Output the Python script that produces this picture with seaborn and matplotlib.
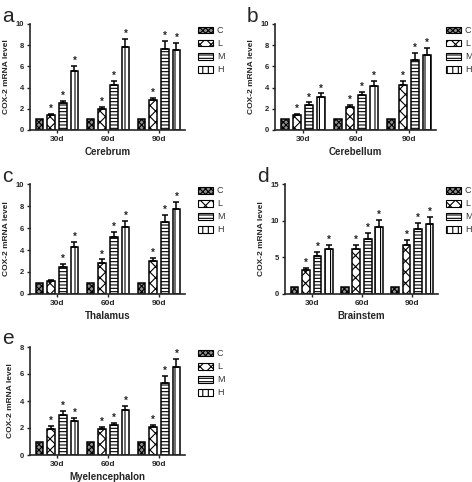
import matplotlib
matplotlib.use("Agg")
import matplotlib.pyplot as plt
import seaborn as sns
import pandas as pd
from matplotlib.patches import Patch

sns.set_style("ticks")
plt.rcParams['font.family'] = ['Liberation Sans', 'DejaVu Sans']
plt.rcParams['hatch.linewidth'] = 0.8

times = ["30d", "60d", "90d"]
groups = ["C", "L", "M", "H"]

# values per panel: rows = time, columns = group (C, L, M, H)
cerebrum_vals = [[1, 1.45, 2.55, 5.55], [1, 2.0, 4.25, 7.8], [1, 2.8, 7.65, 7.5]]
cerebrum_err = [[0, 0.1, 0.2, 0.5], [0, 0.2, 0.4, 0.8], [0, 0.25, 0.75, 0.75]]
cerebellum_vals = [[1, 1.4, 2.35, 3.15], [1, 2.2, 3.3, 4.15], [1, 4.25, 6.6, 7.05]]
cerebellum_err = [[0, 0.15, 0.25, 0.3], [0, 0.2, 0.3, 0.45], [0, 0.4, 0.65, 0.7]]
thalamus_vals = [[1, 1.2, 2.5, 4.3], [1, 2.85, 5.15, 6.1], [1, 3.0, 6.55, 7.7]]
thalamus_err = [[0, 0.08, 0.2, 0.4], [0, 0.3, 0.5, 0.55], [0, 0.25, 0.65, 0.7]]
brainstem_vals = [[1, 3.3, 5.25, 6.15], [1, 6.2, 7.55, 9.15], [1, 6.75, 8.9, 9.6]]
brainstem_err = [[0, 0.3, 0.5, 0.55], [0, 0.5, 0.75, 0.9], [0, 0.6, 0.75, 0.9]]
myelen_vals = [[1, 1.95, 2.95, 2.5], [1, 1.9, 2.2, 3.35], [1, 2.05, 5.35, 6.5]]
myelen_err = [[0, 0.2, 0.3, 0.25], [0, 0.15, 0.2, 0.3], [0, 0.15, 0.5, 0.6]]

stars = [[False, True, True, True]] * 3
thal_stars = [[False, False, True, True], [False, True, True, True], [False, True, True, True]]

panels = [
    ("a", "Cerebrum", cerebrum_vals, cerebrum_err, stars, [0, 2, 4, 6, 8, 10], (30, 185, 24, 130), 198),
    ("b", "Cerebellum", cerebellum_vals, cerebellum_err, stars, [0, 2, 4, 6, 8, 10], (275, 436, 24, 130), 446),
    ("c", "Thalamus", thalamus_vals, thalamus_err, thal_stars, [0, 2, 4, 6, 8, 10], (30, 185, 184, 294), 198),
    ("d", "Brainstem", brainstem_vals, brainstem_err, stars, [0, 5, 10, 15], (285, 438, 184, 294), 446),
    ("e", "Myelencephalon", myelen_vals, myelen_err, stars, [0, 2, 4, 6, 8], (30, 185, 347, 455), 198),
]

styles = {
    "C": dict(facecolor="#8f8f8f", hatch="xxxxxx"),
    "L": dict(facecolor="white", hatch="xxx"),
    "M": dict(facecolor="white", hatch="-----"),
    "H": dict(facecolor="white", hatch="|||"),
}

W, H = 472, 482
fig = plt.figure(figsize=(W / 100, H / 100), dpi=100)

for letter, title, vals, errs, st, yticks, (l, r, t, b), legx in panels:
    ax = fig.add_axes([l / W, 1 - b / H, (r - l) / W, (b - t) / H])
    rows = []
    for ti, tm in enumerate(times):
        for gi, g in enumerate(groups):
            rows.append(dict(time=tm, group=g, value=vals[ti][gi]))
    df = pd.DataFrame(rows)
    sns.barplot(data=df, x="time", y="value", hue="group", order=times, hue_order=groups,
                width=0.91, gap=0.34, errorbar=None, legend=False, ax=ax)
    for gi, (g, cont) in enumerate(zip(groups, ax.containers)):
        for ti, bar in enumerate(cont):
            bar.set_facecolor(styles[g]["facecolor"])
            bar.set_hatch(styles[g]["hatch"])
            bar.set_edgecolor("black")
            bar.set_linewidth(1.1)
            xc = bar.get_x() + bar.get_width() / 2
            h = bar.get_height()
            e = errs[ti][gi]
            if e > 0:
                ax.errorbar(xc, h, yerr=[[0], [e]], fmt="none", ecolor="black",
                            elinewidth=1.1, capsize=2.2, capthick=1.1)
            if st[ti][gi]:
                ax.text(xc, h + e, "*", ha="center", va="bottom", fontsize=7,
                        fontweight="bold", linespacing=0.5)
    ax.set_xlim(-0.53, 2.51)
    ax.set_ylim(yticks[0], yticks[-1])
    ax.set_yticks(yticks)
    ax.set_yticklabels([str(v) for v in yticks], fontsize=5.5, fontweight="bold")
    ax.set_xticks(range(3))
    ax.set_xticklabels(times, fontsize=6, fontweight="bold")
    ax.set_xlabel(title, fontsize=7, fontweight="bold", labelpad=3)
    ax.set_ylabel("COX-2 mRNA level", fontsize=6, fontweight="bold", labelpad=4)
    ax.tick_params(axis="both", length=2.5, width=1.0, pad=2)
    for s in ["left", "bottom"]:
        ax.spines[s].set_linewidth(1.2)
    sns.despine(ax=ax)
    handles = [Patch(facecolor=styles[g]["facecolor"], hatch=styles[g]["hatch"],
                     edgecolor="black", linewidth=0.8) for g in groups]
    leg = ax.legend(handles, groups, loc="upper left",
                    bbox_to_anchor=((legx - l) / (r - l), 0.98),
                    frameon=False, fontsize=6.5, handlelength=1.7, handleheight=0.8,
                    handletextpad=0.4, labelspacing=0.45, borderaxespad=0, borderpad=0)
    for txt in leg.get_texts():
        txt.set_color("#333333")
    fig.text((l - 28) / W, 1 - (t - 8) / H, letter, fontsize=15, ha="left", va="center")

fig.savefig("out.png", dpi=100)
